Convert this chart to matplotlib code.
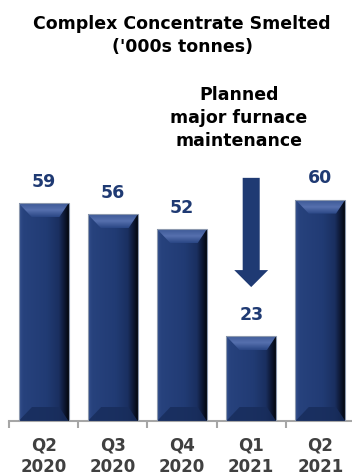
import matplotlib.pyplot as plt
import matplotlib.colors as mcolors
import numpy as np
from matplotlib.patches import Polygon, Rectangle

# data
quarters = ['Q2\n2020', 'Q3\n2020', 'Q4\n2020', 'Q1\n2021', 'Q2\n2021']
smelted = [59, 56, 52, 23, 60]

NAVY = '#1f3a73'
W, H = 352, 476
YMAX = 87.0
BAR_W = 0.72
BEVEL_PX = 14

fig = plt.figure(figsize=(W / 100, H / 100), dpi=100)
ax = fig.add_axes([9 / W, 55 / H, 346 / W, 321 / H])
ax.set_xlim(-0.5, 4.5)
ax.set_ylim(0, YMAX)

# pixel -> data unit conversions for the bevel
px_x = 346 / 5.0
px_y = 321 / YMAX
dx = BEVEL_PX * 0.95 / px_x
dy = BEVEL_PX / px_y

side_cmap = mcolors.LinearSegmentedColormap.from_list(
    'side', [(0.0, '#34508c'), (0.08, '#27427d'), (0.55, '#213b74'),
             (0.8, '#1a2f60'), (0.92, '#0c1630'), (1.0, '#03060e')])
top_cmap = mcolors.LinearSegmentedColormap.from_list(
    'top', ['#2a4684', '#5670ae', '#3d5996'])

bars = ax.bar(range(len(smelted)), smelted, width=BAR_W, color=NAVY,
              edgecolor='none', zorder=2)

for bar, val in zip(bars, smelted):
    x0, x1 = bar.get_x(), bar.get_x() + bar.get_width()
    top = bar.get_height()
    grad = np.linspace(0, 1, 200).reshape(1, -1)
    im = ax.imshow(grad, cmap=side_cmap, aspect='auto',
                   extent=(x0, x1, 0, top), zorder=3)
    im.set_clip_path(bar)

    # top bevel (lighter)
    tp = Polygon([(x0, top), (x1, top), (x1 - dx * 0.7, top - dy),
                  (x0 + dx, top - dy)], closed=True, facecolor='none',
                 edgecolor='none', zorder=4)
    ax.add_patch(tp)
    vgrad = np.linspace(1, 0, 50).reshape(-1, 1)
    im2 = ax.imshow(vgrad, cmap=top_cmap, aspect='auto',
                    extent=(x0, x1, top - dy, top), zorder=4)
    im2.set_clip_path(tp)

    # bottom bevel (darker)
    bp = Polygon([(x0, 0), (x1, 0), (x1 - dx * 0.7, dy),
                  (x0 + dx, dy)], closed=True, facecolor='#182d5c',
                 edgecolor='none', alpha=0.85, zorder=4)
    ax.add_patch(bp)

    ax.add_patch(Rectangle((x0, 0), x1 - x0, top, facecolor='none',
                           edgecolor='#8d99ae', linewidth=0.8, zorder=5))

    ax.annotate(str(val), (bar.get_x() + bar.get_width() / 2, top),
                xytext=(0, 15.5), textcoords='offset points',
                ha='center', va='center', fontsize=12.5,
                fontweight='bold', color=NAVY)

# maintenance arrow over Q1 2021
ax.arrow(3, 65.9, 0, 36.3 - 65.9, width=0.246, head_width=0.49,
         head_length=4.6, length_includes_head=True, color=NAVY,
         linewidth=0, zorder=3)
ax.text(2.82, 82.1, 'Planned\nmajor furnace\nmaintenance', ha='center',
        va='center', fontsize=12.5, fontweight='bold', color='black',
        linespacing=1.35)

fig.text(182 / W, 1 - 35.5 / H, "Complex Concentrate Smelted\n('000s tonnes)",
         ha='center', va='center', fontsize=12.5, fontweight='bold',
         color='black', linespacing=1.42)

for side in ['top', 'right', 'left']:
    ax.spines[side].set_visible(False)
ax.spines['bottom'].set_color('#a6a6a6')
ax.spines['bottom'].set_linewidth(1.5)
ax.set_yticks([])
ax.set_xticks(np.arange(-0.5, 5.0, 1.0), minor=False)
ax.set_xticklabels([])
ax.tick_params(axis='x', length=5, width=1.5, color='#a6a6a6')
ax.set_xticks(range(len(quarters)), minor=True)
ax.set_xticklabels(quarters, minor=True)
ax.tick_params(axis='x', which='minor', length=0, pad=11, labelsize=12,
               labelcolor='#404040')
for lbl in ax.get_xticklabels(minor=True):
    lbl.set_fontweight('bold')
    lbl.set_linespacing(1.3)

fig.savefig('out.png', dpi=100)
